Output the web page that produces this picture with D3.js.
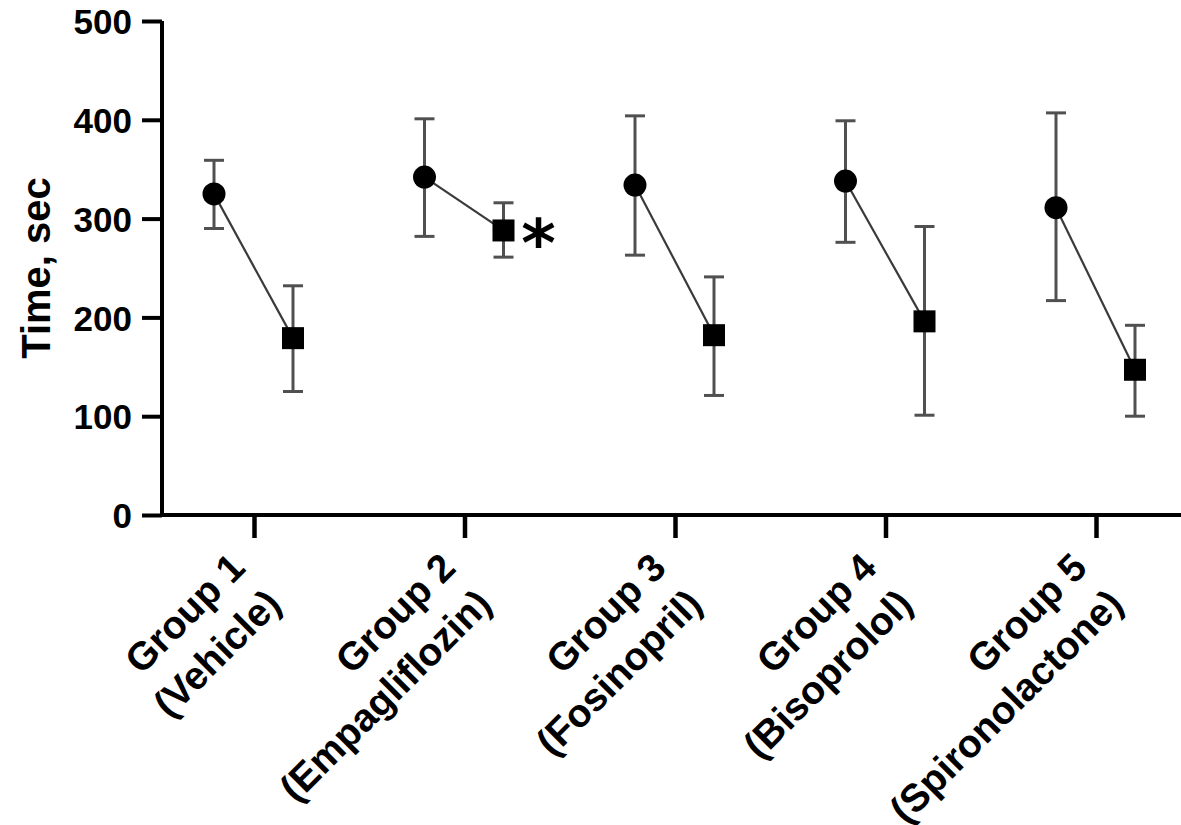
<!DOCTYPE html>
<html>
<head>
<meta charset="utf-8">
<script src="https://cdn.jsdelivr.net/npm/d3@7"></script>
<style>
  html, body { margin: 0; padding: 0; background: #fff; }
  text { font-family: "Liberation Sans", Arial, sans-serif; font-weight: bold; fill: #000; }
</style>
</head>
<body>
<svg id="chart" width="1181" height="825"></svg>
<script>
// data
var groups     = ['Group 1', 'Group 2', 'Group 3', 'Group 4', 'Group 5'],
    treatments = ['(Vehicle)', '(Empagliflozin)', '(Fosinopril)', '(Bisoprolol)', '(Spironolactone)'],
    beforeMean = [325, 342, 334, 338, 311],
    beforeHi   = [359, 401, 404, 399, 407],
    beforeLo   = [290, 282, 263, 276, 217],
    afterMean  = [179, 288, 182, 196, 147],
    afterHi    = [232, 316, 241, 292, 192],
    afterLo    = [125, 261, 121, 101, 100],
    starred    = [false, true, false, false, false],
    yTicks     = [0, 100, 200, 300, 400, 500];

var svg = d3.select('#chart');

var axisX0   = 162,
    axisY0   = 515,
    tickSize = 20;

var y = d3.scaleLinear()
	.domain([0, 500])
	.range([axisY0, 21]);

var x = d3.scalePoint()
	.domain(groups)
	.range([254, 1096]);

// offset of before/after points around the group tick
var sub = d3.scalePoint()
	.domain(['before', 'after'])
	.range([-40, 39]);

var rows = groups.map(function(g, i){
	return {
		group: g,
		star: starred[i],
		pts: [
			{ key: 'before', mean: beforeMean[i], hi: beforeHi[i], lo: beforeLo[i] },
			{ key: 'after',  mean: afterMean[i],  hi: afterHi[i],  lo: afterLo[i] }
		]
	};
});

// Y AXIS
var yAxis = svg.append('g')
	.attr('transform', 'translate(' + axisX0 + ',0)')
	.call(d3.axisLeft(y).tickValues(yTicks).tickSize(tickSize).tickPadding(10).tickFormat(d3.format('d')));

yAxis.select('.domain')
	.attr('d', 'M0,' + y(500) + 'V' + (axisY0 + 2))
	.attr('stroke', '#000')
	.attr('stroke-width', 4);

yAxis.selectAll('.tick line')
	.attr('stroke', '#000')
	.attr('stroke-width', 4);

yAxis.selectAll('.tick text')
	.style('font-size', '35px')
	.attr('dy', '0.36em');

svg.append('text')
	.attr('transform', 'translate(50,268) rotate(-90)')
	.attr('text-anchor', 'middle')
	.style('font-size', '40px')
	.text('Time, sec');

// X AXIS
var xAxis = svg.append('g')
	.attr('transform', 'translate(0,' + axisY0 + ')')
	.call(d3.axisBottom(x).tickSize(23).tickFormat(''));

xAxis.select('.domain')
	.attr('d', 'M' + (axisX0 - 2) + ',0H1181')
	.attr('stroke', '#000')
	.attr('stroke-width', 4);

xAxis.selectAll('.tick line')
	.attr('stroke', '#000')
	.attr('stroke-width', 4.5);

// two line rotated category labels
var labels = svg.append('g').selectAll('g.xlabel')
	.data(groups)
	.enter()
	.append('g')
	.attr('class', 'xlabel')
	.attr('transform', function(d){
		return 'translate(' + (x(d) - 7) + ',' + (axisY0 + 55) + ') rotate(-45)';
	});

labels.append('text')
	.attr('text-anchor', 'end')
	.style('font-size', '39px')
	.text(function(d){ return d; });

labels.append('text')
	.attr('text-anchor', 'end')
	.attr('x', 0)
	.attr('y', 51)
	.style('font-size', '39px')
	.text(function(d, i){ return treatments[i]; });

// MARKS
var grp = svg.append('g').selectAll('g.grp')
	.data(rows)
	.enter()
	.append('g')
	.attr('class', 'grp')
	.attr('transform', function(d){ return 'translate(' + x(d.group) + ',0)'; });

// connecting line
grp.append('path')
	.attr('fill', 'none')
	.attr('stroke', '#3a3a3a')
	.attr('stroke-width', 2.2)
	.attr('d', function(d){
		return d3.line()
			.x(function(p){ return sub(p.key); })
			.y(function(p){ return y(p.mean); })(d.pts);
	});

// error bars
var bars = grp.selectAll('g.err')
	.data(function(d){ return d.pts; })
	.enter()
	.append('g')
	.attr('class', 'err')
	.attr('stroke', '#505050')
	.attr('stroke-width', 3);

bars.append('line')
	.attr('x1', function(p){ return sub(p.key); })
	.attr('x2', function(p){ return sub(p.key); })
	.attr('y1', function(p){ return y(p.hi); })
	.attr('y2', function(p){ return y(p.lo); });

bars.append('line')
	.attr('x1', function(p){ return sub(p.key) - 10; })
	.attr('x2', function(p){ return sub(p.key) + 10; })
	.attr('y1', function(p){ return y(p.hi); })
	.attr('y2', function(p){ return y(p.hi); });

bars.append('line')
	.attr('x1', function(p){ return sub(p.key) - 10; })
	.attr('x2', function(p){ return sub(p.key) + 10; })
	.attr('y1', function(p){ return y(p.lo); })
	.attr('y2', function(p){ return y(p.lo); });

// markers: circle before, square after
grp.append('circle')
	.attr('cx', function(d){ return sub('before'); })
	.attr('cy', function(d){ return y(d.pts[0].mean); })
	.attr('r', 11.5)
	.attr('fill', '#000');

grp.append('rect')
	.attr('x', function(d){ return sub('after') - 11; })
	.attr('y', function(d){ return y(d.pts[1].mean) - 11; })
	.attr('width', 22)
	.attr('height', 22)
	.attr('fill', '#000');

// significance star
grp.filter(function(d){ return d.star; })
	.append('text')
	.attr('x', function(d){ return sub('after') + 35; })
	.attr('y', function(d){ return y(d.pts[1].mean) + 36; })
	.attr('text-anchor', 'middle')
	.style('font-family', '"DejaVu Sans", sans-serif')
	.style('font-size', '66px')
	.text('*');
</script>
</body>
</html>
